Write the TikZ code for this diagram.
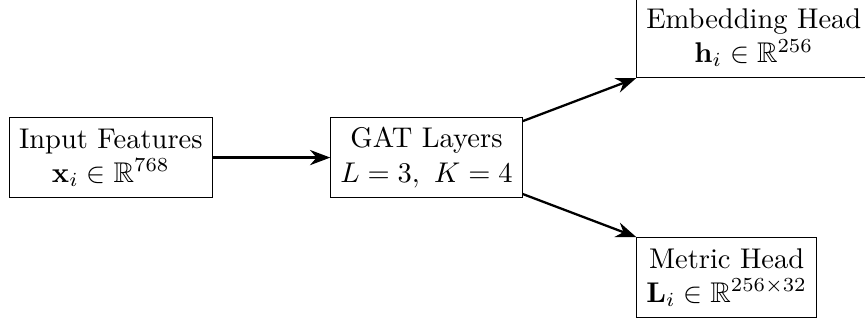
\documentclass[tikz,border=0pt]{standalone}
\usepackage{amssymb}
\usetikzlibrary{arrows.meta, positioning}
\tikzset{
  block/.style={draw, align=center, minimum height=0.98cm},
  arrow/.style={-{Stealth[length=2.5mm]}, thick},
}
\begin{document}
\begin{tikzpicture}[node distance=1.45cm]
  \clip (-1.367,-2.003) rectangle (9.30,1.943);
  \node[block] (input) {Input Features\\ $\mathbf{x}_i \in \mathbb{R}^{768}$};
  \node[block, right=of input] (gat) {GAT Layers\\ $L=3,\ K=4$};
  \node[block, above right=0.98cm and 1.4cm of gat.east] (emb) {Embedding Head\\ $\mathbf{h}_i \in \mathbb{R}^{256}$};
  \node[block, below right=0.98cm and 1.4cm of gat.east] (metric) {Metric Head\\ $\mathbf{L}_i \in \mathbb{R}^{256\times 32}$};
  \draw[arrow] (input) -- (gat);
  \draw[arrow] (gat) -- (emb.south west);
  \draw[arrow] (gat) -- (metric.north west);
\end{tikzpicture}
\end{document}
